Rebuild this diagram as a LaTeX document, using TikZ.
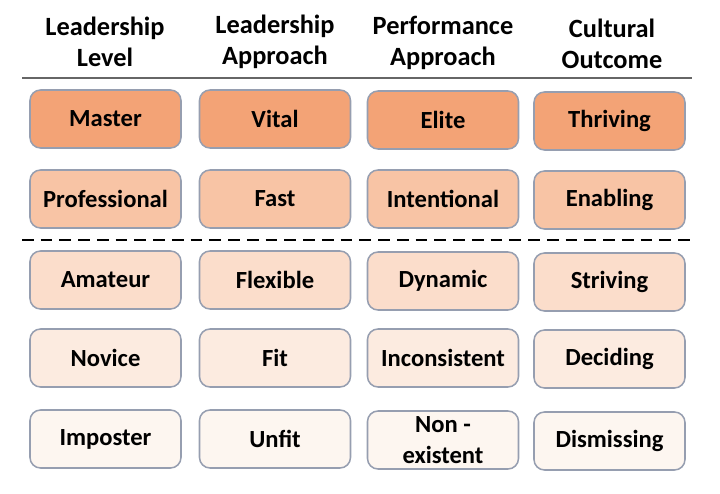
\documentclass[tikz,border=0pt]{standalone}
\usepackage{fontspec}
\setmainfont{Carlito}
\definecolor{rowA}{RGB}{243,163,118}
\definecolor{rowB}{RGB}{248,196,165}
\definecolor{rowC}{RGB}{251,221,203}
\definecolor{rowD}{RGB}{252,235,224}
\definecolor{rowE}{RGB}{253,246,240}
\definecolor{rim}{RGB}{150,158,176}
\tikzset{
  level/.style={draw=rim, line width=1.3pt, rounded corners=9pt,
    minimum width=151*0.03cm, minimum height=58*0.03cm,
    font=\fontsize{21}{23}\selectfont\bfseries, align=center, inner sep=0pt},
  head/.style={font=\fontsize{22.5}{26}\selectfont\bfseries, align=center}
}
\begin{document}
\begin{tikzpicture}[x=0.03cm, y=-0.03cm]
\useasboundingbox (0,0) rectangle (720,493);
% En-tetes
\node[head] (hLevel) at (105,42) {Leadership\\Level};
\node[head] (hLead) at (275,42) {Leadership\\Approach};
\node[head] (hPerf) at (443,43) {Performance\\Approach};
\node[head] (hCult) at (612,44) {Cultural\\Outcome};
\draw[line width=1pt, black!60] (22,78) -- (692,78);
%
\node[level, fill=rowA] (master) at (105.5,119) {Master};
\node[level, fill=rowA] (vital) at (275,119) {Vital};
\node[level, fill=rowA] (elite) at (443,120) {Elite};
\node[level, fill=rowA] (thriving) at (609.5,121) {Thriving};
%
\node[level, fill=rowB] (professional) at (105.5,199) {Professional};
\node[level, fill=rowB] (fast) at (275,199) {Fast};
\node[level, fill=rowB] (intentional) at (443,199) {Intentional};
\node[level, fill=rowB] (enabling) at (609.5,200) {Enabling};
%
\draw[line width=2.3pt, dash pattern=on 10pt off 6pt] (22,240) -- (692,240); % Limite
%
\node[level, fill=rowC] (amateur) at (105.5,280) {Amateur};
\node[level, fill=rowC] (flexible) at (275,280) {Flexible};
\node[level, fill=rowC] (dynamic) at (443,281) {Dynamic};
\node[level, fill=rowC] (striving) at (609.5,282) {Striving};
%
\node[level, fill=rowD] (novice) at (105.5,358) {Novice};
\node[level, fill=rowD] (fit) at (275,358) {Fit};
\node[level, fill=rowD] (inconsistent) at (443,358) {Inconsistent};
\node[level, fill=rowD] (deciding) at (609.5,359) {Deciding};
%
\node[level, fill=rowE] (imposter) at (105.5,439) {Imposter};
\node[level, fill=rowE] (unfit) at (275,439) {Unfit};
\node[level, fill=rowE, font=\fontsize{21}{26}\selectfont\bfseries] (nonexistent) at (443,440) {Non -\\existent};
\node[level, fill=rowE] (dismissing) at (609.5,441) {Dismissing};
\end{tikzpicture}
\end{document}
